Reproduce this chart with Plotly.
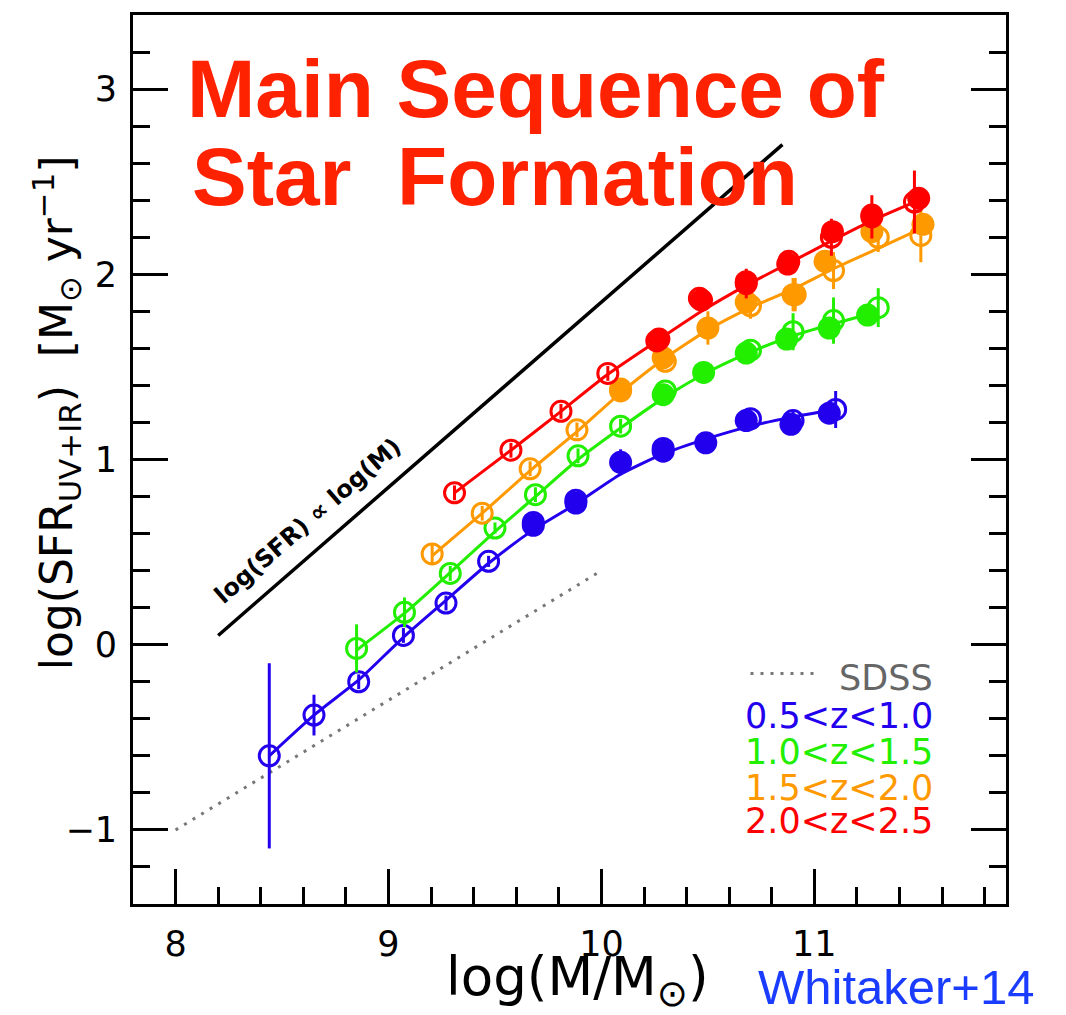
import plotly.graph_objects as go

# ---------------- data: log SFR vs log stellar mass ----------------
# 0.5 < z < 1.0
blue_open_x = [8.44, 8.65, 8.86, 9.07, 9.27, 9.47, 9.68, 9.88, 10.29, 10.70, 10.90, 11.10]
blue_open_y = [-0.60, -0.38, -0.20, 0.05, 0.225, 0.45, 0.66, 0.78, 1.06, 1.22, 1.21, 1.27]
blue_open_err = [0.50, 0.11, 0.04, 0.04, 0.04, 0.03, 0.02, 0.02, 0.03, 0.04, 0.05, 0.10]
blue_fill_x = [9.68, 9.88, 10.09, 10.29, 10.49, 10.68, 10.89, 11.07]
blue_fill_y = [0.645, 0.765, 0.985, 1.045, 1.09, 1.21, 1.19, 1.25]
blue_fill_err = [0.05, 0.03, 0.07, 0.03, 0.05, 0.03, 0.05, 0.04]
blue_fit_x = [8.44, 8.65, 8.86, 9.07, 9.27, 9.47, 9.68, 9.88, 10.09, 10.29, 10.49, 10.70, 10.90, 11.10]
blue_fit_y = [-0.60, -0.38, -0.19, 0.04, 0.24, 0.44, 0.62, 0.76, 0.92, 1.03, 1.11, 1.18, 1.23, 1.27]

# 1.0 < z < 1.5
green_open_x = [8.85, 9.075, 9.29, 9.50, 9.69, 9.89, 10.09, 10.30, 10.70, 10.90, 11.09, 11.30]
green_open_y = [-0.02, 0.175, 0.385, 0.63, 0.81, 1.02, 1.18, 1.37, 1.59, 1.69, 1.75, 1.82]
green_open_err = [0.13, 0.08, 0.04, 0.03, 0.04, 0.04, 0.04, 0.03, 0.04, 0.10, 0.125, 0.105]
green_fill_x = [10.29, 10.48, 10.68, 10.87, 11.07, 11.25]
green_fill_y = [1.35, 1.47, 1.575, 1.65, 1.71, 1.78]
green_fill_err = [0.03, 0.03, 0.03, 0.03, 0.03, 0.03]
green_fit_x = [8.85, 9.075, 9.29, 9.50, 9.69, 9.89, 10.09, 10.29, 10.48, 10.68, 10.88, 11.08, 11.27]
green_fit_y = [-0.03, 0.17, 0.39, 0.61, 0.80, 1.00, 1.17, 1.33, 1.46, 1.57, 1.66, 1.73, 1.79]

# 1.5 < z < 2.0
orange_open_x = [9.205, 9.44, 9.665, 9.885, 10.09, 10.30, 10.70, 10.91, 11.09, 11.30, 11.50]
orange_open_y = [0.49, 0.71, 0.95, 1.16, 1.37, 1.53, 1.83, 1.89, 2.02, 2.20, 2.21]
orange_open_err = [0.05, 0.04, 0.04, 0.04, 0.04, 0.04, 0.07, 0.09, 0.10, 0.08, 0.145]
orange_fill_x = [10.09, 10.29, 10.50, 10.68, 10.90, 11.05, 11.27, 11.51]
orange_fill_y = [1.38, 1.55, 1.71, 1.85, 1.89, 2.07, 2.23, 2.27]
orange_fill_err = [0.03, 0.03, 0.09, 0.03, 0.09, 0.03, 0.03, 0.03]
orange_fit_x = [9.205, 9.44, 9.665, 9.885, 10.09, 10.29, 10.50, 10.70, 10.90, 11.09, 11.30, 11.47]
orange_fit_y = [0.48, 0.71, 0.94, 1.15, 1.36, 1.54, 1.70, 1.82, 1.92, 2.03, 2.14, 2.23]

# 2.0 < z < 2.5
red_open_x = [9.31, 9.575, 9.81, 10.03, 10.26, 10.46, 10.68, 10.88, 11.08, 11.27, 11.47]
red_open_y = [0.82, 1.05, 1.26, 1.465, 1.64, 1.87, 1.95, 2.07, 2.20, 2.31, 2.39]
red_open_err = [0.04, 0.04, 0.04, 0.04, 0.03, 0.03, 0.08, 0.05, 0.10, 0.117, 0.17]
red_fill_x = [10.27, 10.47, 10.68, 10.875, 11.085, 11.27, 11.49]
red_fill_y = [1.65, 1.86, 1.96, 2.055, 2.23, 2.32, 2.41]
red_fill_err = [0.03, 0.03, 0.03, 0.03, 0.03, 0.03, 0.03]
red_fit_x = [9.31, 9.575, 9.81, 10.03, 10.26, 10.47, 10.68, 10.88, 11.08, 11.27, 11.47]
red_fit_y = [0.82, 1.05, 1.26, 1.46, 1.64, 1.80, 1.94, 2.06, 2.18, 2.29, 2.39]

# local relation from SDSS and a unit-slope reference line
sdss_x = [8.0, 10.0]
sdss_y = [-1.0, 0.4]
unit_slope_x = [8.2, 10.85]
unit_slope_y = [0.05, 2.70]

labels = ["0.5<z<1.0", "1.0<z<1.5", "1.5<z<2.0", "2.0<z<2.5"]
colors = ["#2200EE", "#22EE00", "#FF9900", "#FF0000"]

series = [
    (blue_open_x, blue_open_y, blue_open_err, blue_fill_x, blue_fill_y, blue_fill_err, blue_fit_x, blue_fit_y),
    (green_open_x, green_open_y, green_open_err, green_fill_x, green_fill_y, green_fill_err, green_fit_x, green_fit_y),
    (orange_open_x, orange_open_y, orange_open_err, orange_fill_x, orange_fill_y, orange_fill_err, orange_fit_x, orange_fit_y),
    (red_open_x, red_open_y, red_open_err, red_fill_x, red_fill_y, red_fill_err, red_fit_x, red_fit_y),
]

FONT = "DejaVu Sans"

fig = go.Figure()

# SDSS relation (dotted grey)
fig.add_trace(go.Scatter(x=sdss_x, y=sdss_y, mode="lines",
                         line=dict(color="#777777", width=3, dash="3px,7px"),
                         showlegend=False, hoverinfo="skip"))
# unit slope reference
fig.add_trace(go.Scatter(x=unit_slope_x, y=unit_slope_y, mode="lines",
                         line=dict(color="black", width=3.5),
                         showlegend=False, hoverinfo="skip"))

for (ox, oy, oe, fx, fy, fe, lx, ly), col, lab in zip(series, colors, labels):
    fig.add_trace(go.Scatter(x=lx, y=ly, mode="lines",
                             line=dict(color=col, width=3, shape="spline", smoothing=0.6),
                             showlegend=False, hoverinfo="skip"))
    fig.add_trace(go.Scatter(x=ox, y=oy, mode="markers", name=lab,
                             marker=dict(symbol="circle-open", size=20, color=col,
                                         line=dict(width=3, color=col)),
                             error_y=dict(type="data", array=oe, width=0, thickness=3, color=col),
                             showlegend=False))
    fig.add_trace(go.Scatter(x=fx, y=fy, mode="markers", name=lab,
                             marker=dict(symbol="circle", size=23, color=col, line=dict(width=0)),
                             error_y=dict(type="data", array=fe, width=0, thickness=3, color=col),
                             showlegend=False))

axis_common = dict(showgrid=False, zeroline=False, showline=True, linewidth=3, linecolor="black",
                   ticks="inside", ticklen=35, tickwidth=3, tickcolor="black",
                   tickfont=dict(family=FONT, size=35, color="black"))

fig.update_layout(
    width=1066, height=1015, autosize=False,
    margin=dict(l=133, r=60, t=12, b=111),
    paper_bgcolor="white", plot_bgcolor="white",
    xaxis=dict(range=[7.8, 11.9], tickmode="linear", tick0=8, dtick=1, mirror=True,
               ticklabelstandoff=7,
               minor=dict(tickmode="linear", tick0=8, dtick=0.2, ticks="inside", ticklen=17,
                          tickwidth=3, tickcolor="black"),
               **axis_common),
    yaxis=dict(range=[-1.4, 3.4], tickmode="linear", tick0=0, dtick=1, mirror="ticks",
               ticklabelstandoff=6,
               minor=dict(tickmode="linear", tick0=0, dtick=0.2, ticks="inside", ticklen=17,
                          tickwidth=3, tickcolor="black"),
               **axis_common),
    xaxis2=dict(range=[7.8, 11.9], overlaying="x", anchor="y", side="top",
                tickmode="linear", tick0=8, dtick=0.2, ticks="inside", ticklen=13,
                tickwidth=3, tickcolor="black", showticklabels=False,
                showgrid=False, zeroline=False, showline=False),
)

annotations = []
# headline
annotations.append(dict(x=8.045, y=3.005, xref="x", yref="y", xanchor="left", yanchor="middle",
                        text="<b>Main Sequence of</b>", showarrow=False,
                        font=dict(family="Liberation Sans", size=82, color="#FF2200")))
annotations.append(dict(x=8.07, y=2.53, xref="x", yref="y", xanchor="left", yanchor="middle",
                        text="<b>Star  Formation</b>", showarrow=False,
                        font=dict(family="Liberation Sans", size=82, color="#FF2200")))
# label along the unit-slope line
annotations.append(dict(x=8.62, y=0.67, xref="x", yref="y", text="<b>log(SFR) ∝ log(M)</b>",
                        textangle=-41, showarrow=False,
                        font=dict(family=FONT, size=24, color="black")))
# key
key_y = [-0.383, -0.577, -0.771, -0.954]
annotations.append(dict(x=11.565, y=-0.181, xref="x", yref="y", xanchor="right", text="SDSS",
                        showarrow=False, font=dict(family=FONT, size=35, color="#666666")))
for lab, col, ky in zip(labels, colors, key_y):
    annotations.append(dict(x=11.565, y=ky, xref="x", yref="y", xanchor="right", text=lab,
                            showarrow=False, font=dict(family=FONT, size=35, color=col)))
# axis titles
annotations.append(dict(x=0.509, y=-0.086, xref="paper", yref="paper", xanchor="center",
                        yanchor="middle", showarrow=False,
                        text="log(M/M<sub>⊙</sub>)",
                        font=dict(family=FONT, size=53, color="black")))
annotations.append(dict(x=-0.087, y=0.552, xref="paper", yref="paper", xanchor="center",
                        yanchor="middle", showarrow=False, textangle=-90,
                        text="log(SFR<sub>UV+IR</sub>)  [M<sub>⊙</sub> yr<sup>−1</sup>]",
                        font=dict(family=FONT, size=44, color="black")))
annotations.append(dict(x=0.874, y=-0.093, xref="paper", yref="paper", xanchor="center",
                        yanchor="middle", showarrow=False, text="Whitaker+14",
                        font=dict(family="Liberation Sans", size=49, color="#1A3CFF")))
fig.update_layout(annotations=annotations)

# dotted sample next to the SDSS key entry
fig.add_shape(type="line", x0=10.70, x1=11.0, y0=-0.155, y1=-0.155, xref="x", yref="y",
              line=dict(color="#777777", width=3, dash="3px,7px"))

fig.write_html("out.html")
